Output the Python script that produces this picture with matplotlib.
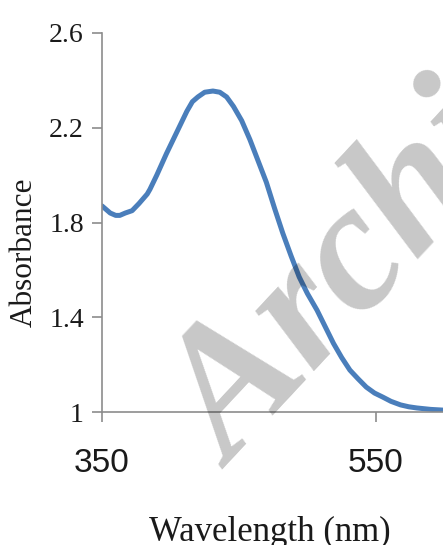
import matplotlib
matplotlib.use('Agg')
import matplotlib.pyplot as plt

# absorption spectrum
wavelength = [350, 352, 356, 360, 363, 367, 372, 377, 383, 385, 390, 397, 402, 407,
              412, 416, 420, 425, 431, 436, 441, 446, 452, 458, 464, 470, 476, 482,
              488, 494, 500, 507, 513, 519, 525, 531, 537, 543, 549, 555, 561, 568,
              574, 580, 590, 599]
absorbance = [1.87, 1.86, 1.84, 1.83, 1.83, 1.84, 1.85, 1.88, 1.92, 1.94, 2.00, 2.09, 2.15, 2.21,
              2.27, 2.31, 2.33, 2.35, 2.355, 2.35, 2.33, 2.29, 2.23, 2.15, 2.06, 1.97, 1.86, 1.755,
              1.66, 1.57, 1.50, 1.43, 1.36, 1.29, 1.23, 1.177, 1.14, 1.105, 1.08, 1.063, 1.045, 1.03,
              1.022, 1.017, 1.011, 1.008]

xticks = [350, 550]
yticks = [1, 1.4, 1.8, 2.2, 2.6]
ytick_labels = ['1', '1.4', '1.8', '2.2', '2.6']

fig = plt.figure(figsize=(4.43, 5.45), dpi=100)
ax = fig.add_axes([102 / 443, 1 - 412 / 545, 341 / 443, 379 / 545])

ax.plot(wavelength, absorbance, color='#4a7ebb', lw=3.6, solid_capstyle='round')

ax.set_xlim(350, 599)
ax.set_ylim(1, 2.6)
ax.set_xticks(xticks)
ax.set_xticklabels([str(t) for t in xticks], fontfamily='Liberation Sans', fontsize=24)
ax.set_yticks(yticks)
ax.set_yticklabels(ytick_labels, fontfamily='Liberation Serif', fontsize=20)

for s in ['top', 'right']:
    ax.spines[s].set_visible(False)
for s in ['left', 'bottom']:
    ax.spines[s].set_color('#8c8c8c')
    ax.spines[s].set_linewidth(1.2)
ax.tick_params(axis='both', direction='out', length=7, width=1.2, color='#8c8c8c',
               labelcolor='#1a1a1a')
ax.tick_params(axis='x', pad=19)
ax.tick_params(axis='y', pad=6)

fig.text(24 / 443, 1 - 252 / 545, 'Absorbance', rotation=90, ha='center', va='center',
         fontfamily='Liberation Serif', fontsize=22.5, color='#1a1a1a')
fig.text(270 / 443, 1 - 516 / 545, 'Wavelength (nm)', ha='center', va='top',
         fontfamily='Liberation Serif', fontsize=25, color='#1a1a1a')

# watermark
fig.text(232 / 443, 1 - 470 / 545, 'Archives', rotation=47, ha='left', va='baseline',
         fontfamily='Liberation Serif', fontweight='bold', fontstyle='italic',
         fontsize=132, color='black', alpha=0.22, rotation_mode='anchor')

fig.savefig('out.png', dpi=100)
